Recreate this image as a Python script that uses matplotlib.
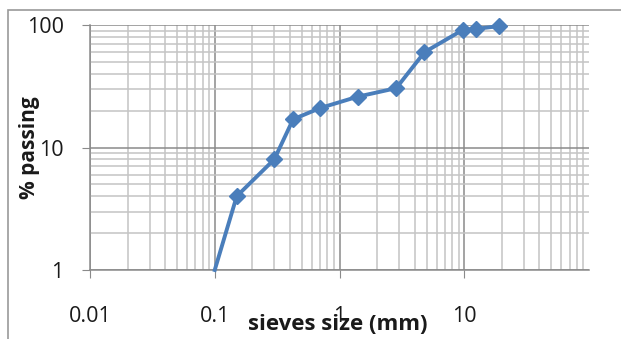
import matplotlib
matplotlib.use("Agg")
import matplotlib.pyplot as plt
from matplotlib.ticker import LogLocator, FixedLocator, NullFormatter
from matplotlib.patches import Rectangle

sieve_size = [0.1, 0.15, 0.3, 0.425, 0.7, 1.4, 2.85, 4.8, 9.7, 12.5, 19]
percent_passing = [1.0, 4.0, 8.0, 17.0, 21.0, 26.0, 30.5, 60.0, 91.0, 93.0, 98.0]
x_ticks = [0.01, 0.1, 1, 10]
x_tick_labels = ["0.01", "0.1", "1", "10"]
y_ticks = [1, 10, 100]
y_tick_labels = ["1", "10", "100"]

plt.rcParams['font.family'] = ['Open Sans', 'DejaVu Sans']

W, H = 621, 339
fig = plt.figure(figsize=(W/100, H/100), dpi=100)
ax = fig.add_axes([90/W, 1-270/H, (589-90)/W, (270-25)/H])

ax.set_xscale('log')
ax.set_yscale('log')
ax.set_xlim(0.01, 100)
ax.set_ylim(1, 100)

ax.xaxis.set_major_locator(FixedLocator(x_ticks))
ax.set_xticklabels(x_tick_labels)
ax.yaxis.set_major_locator(FixedLocator(y_ticks))
ax.set_yticklabels(y_tick_labels)
ax.xaxis.set_minor_locator(LogLocator(base=10, subs=range(2, 10), numticks=20))
ax.yaxis.set_minor_locator(LogLocator(base=10, subs=range(2, 10), numticks=20))
ax.xaxis.set_minor_formatter(NullFormatter())
ax.yaxis.set_minor_formatter(NullFormatter())

ax.grid(True, which='major', color='#8a8a8a', lw=1.1)
ax.grid(True, which='minor', color='#c4c4c4', lw=1.1)
ax.set_axisbelow(True)

for s in ['top', 'right']:
    ax.spines[s].set_visible(False)
for s in ['left', 'bottom']:
    ax.spines[s].set_color('#8a8a8a')
    ax.spines[s].set_linewidth(1.1)

ax.tick_params(which='major', length=6, color='#8a8a8a', labelsize=15.5, labelcolor='#1a1a1a')
ax.tick_params(axis='x', which='major', pad=20)
ax.tick_params(axis='y', which='major', pad=13)
ax.tick_params(which='minor', length=0)

ax.plot(sieve_size, percent_passing, color='#4a7ebb', lw=2.8,
        marker='D', markersize=8.5, markevery=list(range(1, len(sieve_size))),
        clip_on=False, zorder=5)

fig.text(338/W, 1-325/H, 'sieves size (mm)', ha='center', va='center',
         fontsize=16, fontweight='bold', color='#1a1a1a')
fig.text(30/W, 1-148/H, '% passing', ha='center', va='center', rotation=90,
         fontsize=15, fontweight='bold', color='#1a1a1a')

fig.patches.append(Rectangle((8/W, -0.1), 1.2, 1 - 10/H + 0.1, transform=fig.transFigure,
                             fill=False, edgecolor='#9a9a9a', lw=1.2))

fig.savefig('out.png', dpi=100)
